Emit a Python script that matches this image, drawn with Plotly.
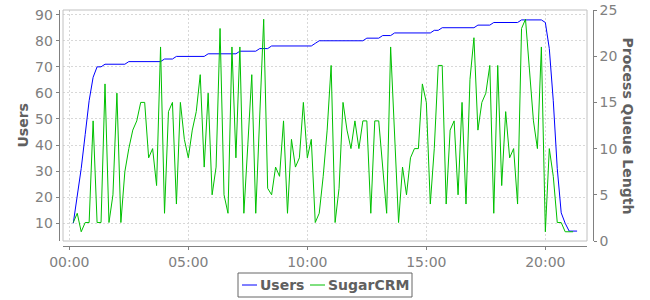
import pandas as pd
import plotly.graph_objects as go

# ---- data ----
users = [10, 20, 31, 44, 57, 66, 70, 70,
         71, 71, 71, 71, 71, 71,
         72, 72, 72, 72, 72, 72, 72, 72, 72,
         73, 73, 73,
         74, 74, 74, 74, 74, 74, 74, 74,
         75, 75, 75, 75, 75, 75, 75, 75,
         76, 76, 76, 76, 76,
         77, 77, 77,
         78, 78, 78, 78, 78, 78, 78, 78, 78, 78, 78,
         79,
         80, 80, 80, 80, 80, 80, 80, 80, 80, 80, 80, 80,
         81, 81, 81, 81,
         82, 82, 82,
         83, 83, 83, 83, 83, 83, 83, 83, 83, 83,
         84, 84,
         85, 85, 85, 85, 85, 85, 85, 85, 85,
         86, 86, 86, 86,
         87, 87, 87, 87, 87, 87, 87,
         88, 88, 88, 88, 88, 88,
         87, 77, 57, 31, 14, 10, 7, 7, 7]

sugarcrm = [2, 3, 1, 2, 2, 13, 2, 2, 17, 2,
            5, 16, 2, 7.5, 10, 12, 13, 15, 15, 9,
            10, 6, 21, 3, 14, 15, 4, 15, 11, 9,
            12, 14, 18, 8, 16, 5, 8, 23, 5, 3,
            21, 9, 21, 3, 10.4, 18, 3, 13, 24, 5.7,
            5, 8, 7, 13, 3, 11, 8, 9, 15, 9,
            11, 2, 3, 7, 12, 19, 2, 5.7, 15, 12,
            10, 13, 10, 13, 13, 3, 13, 13, 8, 3,
            21, 11.4, 2, 8, 5, 9, 10, 10, 17, 15,
            4, 10, 19, 19, 4, 12, 13, 5, 15, 4,
            17.5, 22, 12, 15, 16, 19, 3, 19, 6, 14,
            9, 10, 4, 23, 24, 18.5, 13, 10, 21, 1,
            10, 7, 2, 2, 1, 1, 1]

start_time = "2000-01-01 00:10"
sample_step = "10min"
x_tick_hours = 5

series_names = ["Users", "SugarCRM"]
series_colors = ["#0000FF", "#00C000"]
left_title = "Users"
right_title = "Process Queue Length"

times = pd.date_range(start_time, periods=len(users), freq=sample_step)

W, H = 650, 300
# plot area in pixels
PL, PR, PT, PB = 63, 587, 10, 241

def px(x):
    return x / W

def py(y):
    return (H - y) / H

tick_font = dict(family="DejaVu Sans", size=14, color="#808080")
title_font = dict(family="DejaVu Sans", size=14, color="#606060")

fig = go.Figure()
fig.add_trace(go.Scatter(x=times, y=users, mode="lines", name=series_names[0],
                         line=dict(color=series_colors[0], width=1), yaxis="y",
                         showlegend=False))
fig.add_trace(go.Scatter(x=times[:len(sugarcrm)], y=sugarcrm, mode="lines",
                         name=series_names[1],
                         line=dict(color=series_colors[1], width=1), yaxis="y2",
                         showlegend=False))

axis_common = dict(showline=True, linecolor="#808080", linewidth=1,
                   ticks="outside", ticklen=3, tickcolor="#808080",
                   tickfont=tick_font, zeroline=False, automargin=False)

fig.update_layout(
    width=W, height=H,
    margin=dict(l=0, r=0, t=0, b=0, pad=0, autoexpand=False),
    paper_bgcolor="white", plot_bgcolor="white",
    xaxis=dict(domain=[px(PL), px(PR)], anchor="free", position=py(246),
               type="date",
               range=["1999-12-31 23:44:06", "2000-01-01 21:45:00"],
               tick0="2000-01-01 00:00", dtick=x_tick_hours * 3600 * 1000,
               tickformat="%H:%M",
               showgrid=True, gridcolor="#d8d8d8", griddash="2px,2px",
               **axis_common),
    yaxis=dict(domain=[py(PB), py(PT)], anchor="free", position=px(58.7),
               range=[3.2, 91.8], tick0=0, dtick=10,
               showgrid=True, gridcolor="#d8d8d8", griddash="2px,2px",
               **axis_common),
    yaxis2=dict(overlaying="y", side="right", anchor="free", position=px(592.7),
                range=[0, 25], tick0=0, dtick=5, showgrid=False,
                **axis_common),
    showlegend=False,
)

shapes = [
    # plot outline
    dict(type="rect", xref="paper", yref="paper",
         x0=px(PL), x1=px(PR), y0=py(PB), y1=py(PT),
         line=dict(color="#c0c0c0", width=1), layer="above"),
    # legend box
    dict(type="rect", xref="paper", yref="paper",
         x0=px(238), x1=px(412), y0=py(297), y1=py(273),
         line=dict(color="#666666", width=1), fillcolor="white"),
    dict(type="line", xref="paper", yref="paper",
         x0=px(242), x1=px(257), y0=py(285), y1=py(285),
         line=dict(color=series_colors[0], width=1)),
    dict(type="line", xref="paper", yref="paper",
         x0=px(310), x1=px(325), y0=py(285), y1=py(285),
         line=dict(color=series_colors[1], width=1)),
]

annotations = [
    dict(text="<b>%s</b>" % left_title, xref="paper", yref="paper",
         x=px(22), y=py((PT + PB) / 2), textangle=-90, showarrow=False,
         font=title_font, xanchor="center", yanchor="middle"),
    dict(text="<b>%s</b>" % right_title, xref="paper", yref="paper",
         x=px(628), y=py((PT + PB) / 2), textangle=90, showarrow=False,
         font=title_font, xanchor="center", yanchor="middle"),
    dict(text="<b>%s</b>" % series_names[0], xref="paper", yref="paper",
         x=px(258), y=py(285), showarrow=False, font=title_font,
         xanchor="left", yanchor="middle"),
    dict(text="<b>%s</b>" % series_names[1], xref="paper", yref="paper",
         x=px(326), y=py(285), showarrow=False, font=title_font,
         xanchor="left", yanchor="middle"),
]

fig.update_layout(shapes=shapes, annotations=annotations)
fig.write_html("out.html")
